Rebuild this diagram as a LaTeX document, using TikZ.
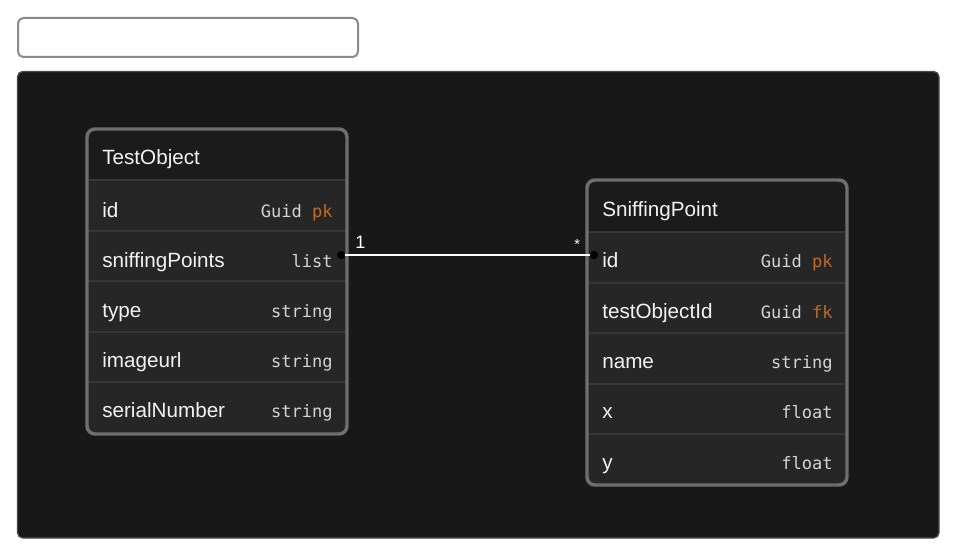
\documentclass[tikz,border=0pt]{standalone}
\usepackage{fontspec}
\setmainfont{Liberation Sans}
\newfontfamily\monof{DejaVu Sans Mono}
\definecolor{panelbg}{HTML}{181818}
\definecolor{panelborder}{HTML}{4A4A4A}
\definecolor{boxgray}{HTML}{8A8A8A}
\definecolor{tframe}{HTML}{6E6E6E}
\definecolor{theadbg}{HTML}{1B1B1B}
\definecolor{trowbg}{HTML}{262626}
\definecolor{tsep}{HTML}{363636}
\definecolor{keyor}{HTML}{C0692A}
\definecolor{nametxt}{HTML}{F2F2F2}
\definecolor{typetxt}{HTML}{D4D4D4}
\tikzset{
  rowbox/.style={rectangle, inner sep=0pt, minimum width=195pt, minimum height=38pt, fill=trowbg, anchor=north west},
  headbox/.style={rectangle, inner sep=0pt, minimum width=195pt, minimum height=38pt, fill=theadbg, anchor=north west},
  fname/.style={anchor=base west, inner sep=0pt, text=nametxt, font=\fontsize{15.5}{17}\selectfont},
  ftype/.style={anchor=base east, inner sep=0pt, text=typetxt, font=\monof\fontsize{12.8}{14}\selectfont},
  sepline/.style={draw=tsep, line width=1.2pt},
  frameline/.style={draw=tframe, line width=2.6pt, rounded corners=6pt},
  conn/.style={draw=white, line width=1.5pt},
  enddot/.style={circle, fill=black, inner sep=0pt, minimum size=6pt},
  card/.style={text=white, inner sep=0pt, anchor=base west, font=\fontsize{13.5}{15}\selectfont}
}
\newcommand{\pk}{\textcolor{keyor}{pk}}
\newcommand{\fk}{\textcolor{keyor}{fk}}
\begin{document}
\begin{tikzpicture}[x=0.75pt,y=-0.75pt]
\useasboundingbox (0,0) rectangle (961,560);
\fill[white] (0,0) rectangle (961,560);
% top empty box
\draw[boxgray, line width=1.5pt, rounded corners=4pt] (18,18) rectangle (358,57);
% dark panel
\draw[panelborder, fill=panelbg, line width=1pt, rounded corners=4pt] (17.5,71.5) rectangle (939,538);

% ---------- TestObject ----------
\begin{scope}
\clip[rounded corners=6pt] (87,129) rectangle (347,434);
\node[headbox] (toh) at (87,129) {};
\node[rowbox] (toid) at (87,180) {};
\node[rowbox] (tosp) at (87,231) {};
\node[rowbox] (totype) at (87,281) {};
\node[rowbox] (toimg) at (87,332) {};
\node[rowbox] (toser) at (87,382) {};
\end{scope}
\draw[sepline] (87,180) -- (347,180);
\draw[sepline] (87,231) -- (347,231);
\draw[sepline] (87,281) -- (347,281);
\draw[sepline] (87,332) -- (347,332);
\draw[sepline] (87,382) -- (347,382);
\draw[frameline] (87,129) rectangle (347,434);
\node[fname] (tohn) at (102,165) {TestObject};
\node[fname] (toidn) at (102,217) {id};
\node[ftype] (toidt) at (333,217) {Guid \pk};
\node[fname] (tospn) at (102,267) {sniffingPoints};
\node[ftype] (tospt) at (333,267) {list};
\node[fname] (totypen) at (102,317) {type};
\node[ftype] (totypet) at (333,317) {string};
\node[fname] (toimgn) at (102,367) {imageurl};
\node[ftype] (toimgt) at (333,367) {string};
\node[fname] (tosern) at (102,417) {serialNumber};
\node[ftype] (tosert) at (333,417) {string};

% ---------- SniffingPoint ----------
\begin{scope}
\clip[rounded corners=6pt] (587,180) rectangle (847,485);
\node[headbox] (sph) at (587,180) {};
\node[rowbox] (spid) at (587,232) {};
\node[rowbox] (sptoid) at (587,283) {};
\node[rowbox] (spname) at (587,333) {};
\node[rowbox] (spx) at (587,384) {};
\node[rowbox] (spy) at (587,434) {};
\end{scope}
\draw[sepline] (587,232) -- (847,232);
\draw[sepline] (587,283) -- (847,283);
\draw[sepline] (587,333) -- (847,333);
\draw[sepline] (587,384) -- (847,384);
\draw[sepline] (587,434) -- (847,434);
\draw[frameline] (587,180) rectangle (847,485);
\node[fname] (sphn) at (602,216) {SniffingPoint};
\node[fname] (spidn) at (602,267) {id};
\node[ftype] (spidt) at (833,267) {Guid \pk};
\node[fname] (sptoidn) at (602,318) {testObjectId};
\node[ftype] (sptoidt) at (833,318) {Guid \fk};
\node[fname] (spnamen) at (602,368) {name};
\node[ftype] (spnamet) at (833,368) {string};
\node[fname] (spxn) at (602,418) {x};
\node[ftype] (spxt) at (833,418) {float};
\node[fname] (spyn) at (602,469) {y};
\node[ftype] (spyt) at (833,469) {float};

% ---------- connector ----------
\node[enddot] (d1) at (341,255) {};
\node[enddot] (d2) at (594,255) {};
\draw[conn] (d1.center) -- (d2.center);
\node[enddot] at (d1) {};
\node[enddot] at (d2) {};
\node[card] (c1) at (355,248) {1};
\node[card, font=\fontsize{11}{12}\selectfont] (c2) at (574,249) {*};
\end{tikzpicture}
\end{document}
